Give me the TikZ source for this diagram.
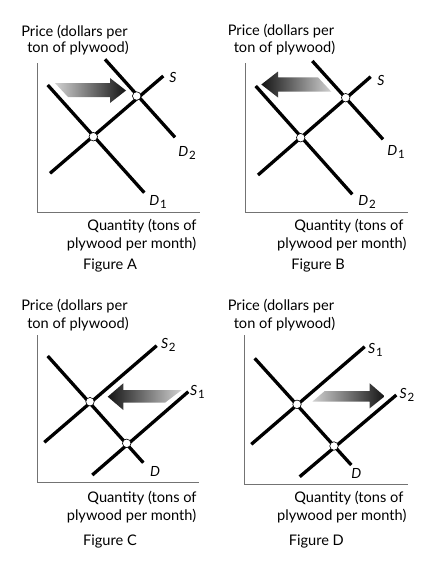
\documentclass[tikz,border=0pt]{standalone}
\usepackage{fontspec}
\setmainfont{Lato}
\newcommand{\curvelab}[2]{{\itshape #1}\kern0.8pt\raisebox{-3pt}{\fontsize{11.5}{12}\selectfont #2}}
\begin{document}
\begin{tikzpicture}[x=1pt,y=-1pt,
  curve/.style={line width=3.3pt},
  axisline/.style={draw=black!55,line width=0.9pt},
  eq/.style={circle,draw=black,line width=0.6pt,fill=white,minimum size=8.5pt,inner sep=0pt},
  txt/.style={font=\fontsize{14.6}{16}\selectfont,anchor=base,inner sep=0pt},
  lab/.style={font=\fontsize{14}{15}\selectfont,inner sep=0pt},
  shiftarrow/.style={draw=none}
]
\useasboundingbox (0,0) rectangle (437,570);

% ---------------- Figure A ----------------
\coordinate (aO) at (37.7,212);
\coordinate (aY) at (37.7,63);
\coordinate (aX) at (200,212);
\draw[axisline] (aY) -- (aO) -- (aX);
\coordinate (ad1s) at (47.7,85);   \coordinate (ad1e) at (144.3,192.7);
\coordinate (ass) at (50,173.3);   \coordinate (ase) at (163.3,76);
\coordinate (ad2s) at (105,59.3);  \coordinate (ad2e) at (175,137.3);
\draw[curve] (ad1s) -- (ad1e);
\draw[curve] (ass) -- (ase);
\draw[curve] (ad2s) -- (ad2e);
\shade[shiftarrow,left color=black!18,right color=black!92]
  (55,83) -- (110,83) -- (110,78) -- (126,90.5) -- (110,103) -- (110,97) -- (68,97) -- cycle;
\node[eq] (ae1) at (93.3,136.7) {};
\node[eq] (ae2) at (136.7,96) {};
\node[lab] (aS) at (173,77) {\itshape S};
\node[lab] (aD2) at (187,153) {\curvelab{D}{2}};
\node[lab] (aD1) at (158,202) {\curvelab{D}{1}};
\node[txt] (ap1) at (74.5,36) {Price (dollars per};
\node[txt] (ap2) at (78,52.3) {ton of plywood)};
\node[txt] (aq1) at (142,230.7) {Quantity (tons of};
\node[txt] (aq2) at (131.5,248.3) {plywood per month)};
\node[txt] (af) at (110,269.3) {Figure A};

% ---------------- Figure B ----------------
\coordinate (bO) at (245.7,212);
\coordinate (bY) at (245.7,63);
\coordinate (bX) at (408,212);
\draw[axisline] (bY) -- (bO) -- (bX);
\coordinate (bd2s) at (255.7,86);  \coordinate (bd2e) at (352.3,194.3);
\coordinate (bss) at (258,175);    \coordinate (bse) at (370.7,76.7);
\coordinate (bd1s) at (312.3,61);  \coordinate (bd1e) at (383,139.3);
\draw[curve] (bd2s) -- (bd2e);
\draw[curve] (bss) -- (bse);
\draw[curve] (bd1s) -- (bd1e);
\shade[shiftarrow,left color=black!92,right color=black!18]
  (261.3,84.5) -- (278,71.5) -- (278,77.3) -- (318,77.3) -- (331.3,91.7) -- (278,91.7) -- (278,97.5) -- cycle;
\node[eq] (be1) at (300.7,137.7) {};
\node[eq] (be2) at (345.7,97.7) {};
\node[lab] (bS) at (381,80) {\itshape S};
\node[lab] (bD1) at (396,151.7) {\curvelab{D}{1}};
\node[lab] (bD2) at (367,201.7) {\curvelab{D}{2}};
\node[txt] (bp1) at (281,35.7) {Price (dollars per};
\node[txt] (bp2) at (284.5,52.7) {ton of plywood)};
\node[txt] (bq1) at (348.8,230) {Quantity (tons of};
\node[txt] (bq2) at (341.8,248.3) {plywood per month)};
\node[txt] (bf) at (318,269.3) {Figure B};

% ---------------- Figure C ----------------
\coordinate (cO) at (37.7,482.3);
\coordinate (cY) at (37.7,335);
\coordinate (cX) at (199.3,482.3);
\draw[axisline] (cY) -- (cO) -- (cX);
\coordinate (cds) at (47.7,356);    \coordinate (cde) at (143.3,462.7);
\coordinate (cs2s) at (44.3,442.3); \coordinate (cs2e) at (156.7,345.7);
\coordinate (cs1s) at (92.3,475);   \coordinate (cs1e) at (188.3,391.7);
\draw[curve] (cds) -- (cde);
\draw[curve] (cs2s) -- (cs2e);
\draw[curve] (cs1s) -- (cs1e);
\shade[shiftarrow,left color=black!92,right color=black!18]
  (107.7,396.7) -- (123.3,383.3) -- (123.3,390) -- (181.7,390) -- (165,402.7) -- (123.3,402.7) -- (123.3,410) -- cycle;
\node[eq] (ce1) at (90,401.7) {};
\node[eq] (ce2) at (126.7,443.3) {};
\node[lab] (cS2) at (168.3,345) {\curvelab{S}{2}};
\node[lab] (cS1) at (197.5,391.7) {\curvelab{S}{1}};
\node[lab] (cD) at (155,471.7) {\itshape D};
\node[txt] (cp1) at (74.5,310) {Price (dollars per};
\node[txt] (cp2) at (78,328.3) {ton of plywood)};
\node[txt] (cq1) at (142,502.3) {Quantity (tons of};
\node[txt] (cq2) at (131.5,520.7) {plywood per month)};
\node[txt] (cf) at (110,545.7) {Figure C};

% ---------------- Figure D ----------------
\coordinate (dO) at (244.7,484);
\coordinate (dY) at (244.7,335);
\coordinate (dX) at (408,484);
\draw[axisline] (dY) -- (dO) -- (dX);
\coordinate (dds) at (254.7,358.3);   \coordinate (dde) at (351.3,465);
\coordinate (ds1s) at (251.3,444.3);  \coordinate (ds1e) at (364.7,346.7);
\coordinate (ds2s) at (299.7,476.7);  \coordinate (ds2e) at (396.3,395);
\draw[curve] (dds) -- (dde);
\draw[curve] (ds1s) -- (ds1e);
\draw[curve] (ds2s) -- (ds2e);
\shade[shiftarrow,left color=black!18,right color=black!92]
  (324.7,391) -- (369.7,391) -- (369.7,383.3) -- (384.7,396.3) -- (369.7,408.3) -- (369.7,401.7) -- (312.3,401.7) -- cycle;
\node[eq] (de1) at (297,404.3) {};
\node[eq] (de2) at (334,446) {};
\node[lab] (dS1) at (375.5,350) {\curvelab{S}{1}};
\node[lab] (dS2) at (407,395) {\curvelab{S}{2}};
\node[lab] (dD) at (356.3,473.3) {\itshape D};
\node[txt] (dp1) at (281,310) {Price (dollars per};
\node[txt] (dp2) at (284.5,328.3) {ton of plywood)};
\node[txt] (dq1) at (348.8,502.3) {Quantity (tons of};
\node[txt] (dq2) at (341.8,520.7) {plywood per month)};
\node[txt] (df) at (316.3,545.7) {Figure D};
\end{tikzpicture}
\end{document}
